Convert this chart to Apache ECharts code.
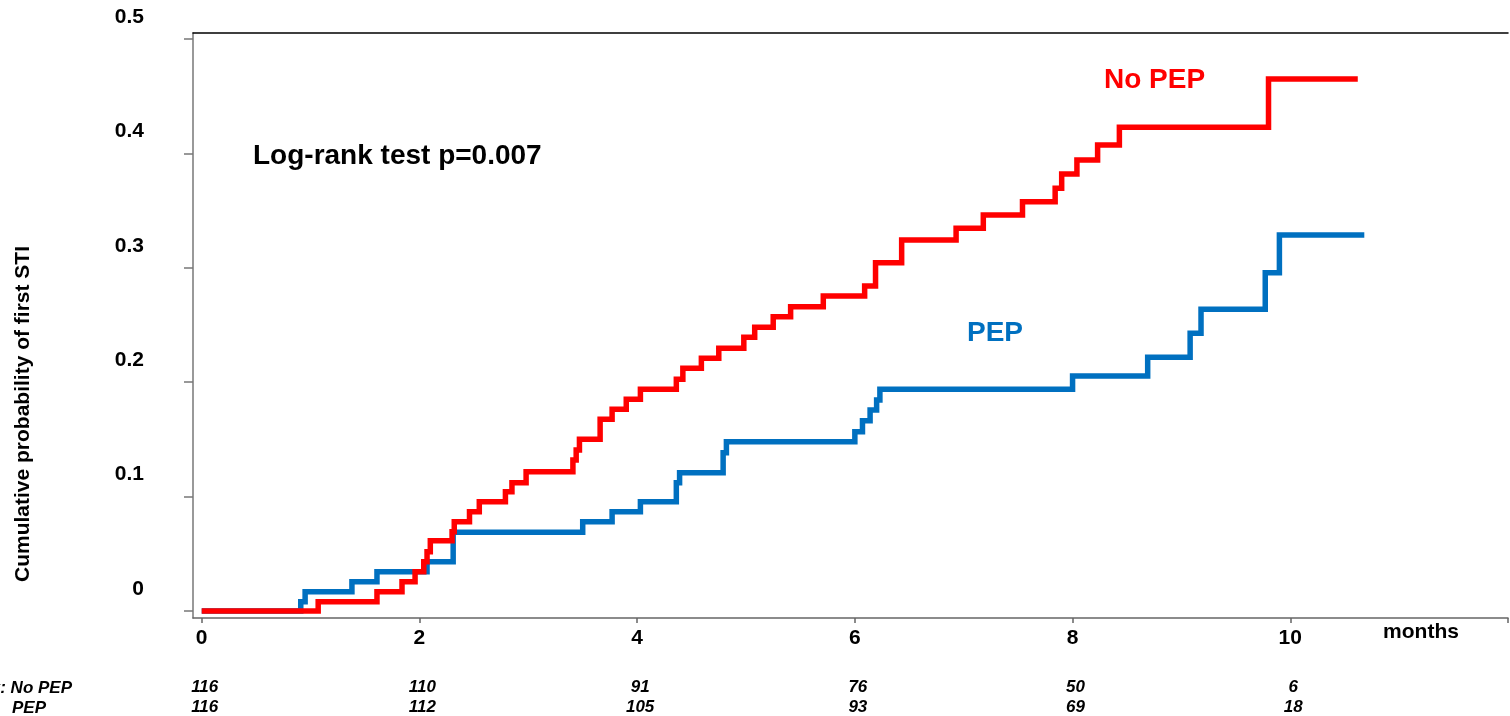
<!DOCTYPE html>
<html>
<head>
<meta charset="utf-8">
<script src="https://cdn.jsdelivr.net/npm/echarts@6/dist/echarts.min.js"></script>
<style>
  html, body { margin: 0; padding: 0; background: #fff; }
  #chart { width: 1510px; height: 716px; }
</style>
</head>
<body>
<div id="chart"></div>
<script>
// Kaplan-Meier cumulative incidence of first STI, months since enrolment
const noPepTimes = [0, 1.07, 1.61, 1.84, 1.96, 2.04, 2.07, 2.10, 2.30, 2.32, 2.46, 2.55, 2.79, 2.85, 2.98,
  3.41, 3.44, 3.47, 3.66, 3.77, 3.90, 4.03, 4.36, 4.42, 4.59, 4.75, 4.98, 5.08, 5.25, 5.41, 5.71,
  6.09, 6.19, 6.43, 6.93, 7.18, 7.54, 7.84, 7.90, 8.04, 8.23, 8.43, 9.80, 10.62];
const noPepProb = [0, 0.0081, 0.0169, 0.0256, 0.0344, 0.0431, 0.0518, 0.0615, 0.0693, 0.0781, 0.0868, 0.0955, 0.1043, 0.1122, 0.1218,
  0.1320, 0.1407, 0.1501, 0.1676, 0.1763, 0.1851, 0.1938, 0.2025, 0.2122, 0.2209, 0.2296, 0.2392, 0.2480, 0.2573, 0.2660, 0.2753,
  0.2841, 0.3045, 0.3243, 0.3345, 0.3462, 0.3578, 0.3695, 0.3820, 0.3942, 0.4073, 0.4228, 0.4650, 0.4650];

const pepTimes = [0, 0.91, 0.95, 1.38, 1.61, 2.07, 2.31, 3.50, 3.77, 4.03, 4.36, 4.39, 4.79, 4.82,
  6.00, 6.07, 6.14, 6.20, 6.23, 8.00, 8.69, 9.08, 9.18, 9.77, 9.90, 10.68];
const pepProb = [0, 0.0081, 0.0169, 0.0256, 0.0344, 0.0431, 0.0688, 0.0781, 0.0868, 0.0955, 0.1122, 0.1209, 0.1384, 0.1480,
  0.1567, 0.1663, 0.1757, 0.1844, 0.1938, 0.2054, 0.2218, 0.2427, 0.2637, 0.2957, 0.3287, 0.3287];

// Axis ticks and labels
const monthTicks = [0, 2, 4, 6, 8, 10, 12];
const monthLabels = [0, 2, 4, 6, 8, 10];
const probTicks = [0, 0.1, 0.2, 0.3, 0.4, 0.5];

// Number at risk at each labelled month
const riskMonths = [0, 2, 4, 6, 8, 10];
const atRiskNoPep = [116, 110, 91, 76, 50, 6];
const atRiskPep = [116, 112, 105, 93, 69, 18];

const RED = '#ff0000';
const BLUE = '#0070c0';
const FONT = '"Liberation Sans", Arial, sans-serif';

const zip = (xs, ys) => xs.map((x, i) => [x, ys[i]]);

const X_MIN = -0.08, X_MAX = 12;

function riskAxis(values, margin) {
  return {
    type: 'value', position: 'bottom', min: X_MIN, max: X_MAX,
    axisLine: { show: false, onZero: false }, axisTick: { show: false }, splitLine: { show: false },
    axisLabel: {
      customValues: riskMonths, margin: margin, padding: [0, 0, 0, 6],
      fontFamily: FONT, fontSize: 17, fontWeight: 'bold', fontStyle: 'italic', color: '#000',
      formatter: v => { const i = riskMonths.indexOf(v); return i < 0 ? '' : String(values[i]); }
    }
  };
}

const chart = echarts.init(document.getElementById('chart'), null, { renderer: 'canvas' });
chart.setOption({
  animation: false,
  backgroundColor: '#fff',
  grid: { left: 193, right: 2, top: 33, bottom: 98, containLabel: false, outerBoundsMode: 'none' },
  xAxis: [
    {
      type: 'value', min: X_MIN, max: X_MAX,
      axisLine: { onZero: false, lineStyle: { color: '#666', width: 1.5 } },
      axisTick: { customValues: monthTicks, length: 5, lineStyle: { color: '#666', width: 1.5 } },
      axisLabel: { customValues: monthLabels, margin: 9.5, fontFamily: FONT, fontSize: 21, fontWeight: 'bold', color: '#000' },
      splitLine: { show: false }
    },
    {
      // frame line along the top of the plot
      type: 'value', position: 'top', min: X_MIN, max: X_MAX,
      axisLine: { onZero: false, lineStyle: { color: '#000', width: 1.5 } },
      axisTick: { show: false }, axisLabel: { show: false }, splitLine: { show: false }
    },
    riskAxis(atRiskNoPep, 60.5),
    riskAxis(atRiskPep, 80.5)
  ],
  yAxis: {
    type: 'value', min: -0.0061, max: 0.5052,
    axisLine: { show: true, onZero: false, lineStyle: { color: '#777', width: 1.5 } },
    axisTick: { show: true, customValues: probTicks, length: 9, lineStyle: { color: '#777', width: 1.5 } },
    axisLabel: {
      customValues: probTicks, margin: 49,
      fontFamily: FONT, fontSize: 21, fontWeight: 'bold', color: '#000',
      verticalAlign: 'middle', lineHeight: 44,
      // the blank second line lifts each value above its tick
      formatter: v => (v === 0 ? '0' : v.toFixed(1)) + '\n '
    },
    splitLine: { show: false }
  },
  series: [
    {
      name: 'PEP', type: 'line', step: 'end', showSymbol: false, symbol: 'none',
      data: zip(pepTimes, pepProb),
      lineStyle: { color: BLUE, width: 5.5, join: 'miter' }, z: 3
    },
    {
      name: 'No PEP', type: 'line', step: 'end', showSymbol: false, symbol: 'none',
      data: zip(noPepTimes, noPepProb),
      lineStyle: { color: RED, width: 5.5, join: 'miter' }, z: 4
    }
  ],
  graphic: [
    {
      type: 'text', left: 253, top: 142,
      style: { text: 'Log-rank test p=0.007', fontFamily: FONT, fontSize: 28, fontWeight: 'bold', fill: '#000' }
    },
    {
      type: 'text', left: 1104, top: 66,
      style: { text: 'No PEP', fontFamily: FONT, fontSize: 28, fontWeight: 'bold', fill: RED }
    },
    {
      type: 'text', left: 967, top: 319,
      style: { text: 'PEP', fontFamily: FONT, fontSize: 28, fontWeight: 'bold', fill: BLUE }
    },
    {
      type: 'text', x: 1421, y: 632,
      style: { text: 'months', fontFamily: FONT, fontSize: 21, fontWeight: 'bold', fill: '#000', align: 'center', verticalAlign: 'middle' }
    },
    {
      type: 'text', x: 23, y: 414, rotation: Math.PI / 2,
      style: { text: 'Cumulative probability of first STI', fontFamily: FONT, fontSize: 21, fontWeight: 'bold', fill: '#000', align: 'center', verticalAlign: 'middle' }
    },
    {
      type: 'text', x: 72, y: 688,
      style: { text: 'Number at risk: No PEP', fontFamily: FONT, fontSize: 17, fontWeight: 'bold', fontStyle: 'italic', fill: '#000', align: 'right', verticalAlign: 'middle' }
    },
    {
      type: 'text', x: 46, y: 708,
      style: { text: 'PEP', fontFamily: FONT, fontSize: 17, fontWeight: 'bold', fontStyle: 'italic', fill: '#000', align: 'right', verticalAlign: 'middle' }
    }
  ]
});
</script>
</body>
</html>
